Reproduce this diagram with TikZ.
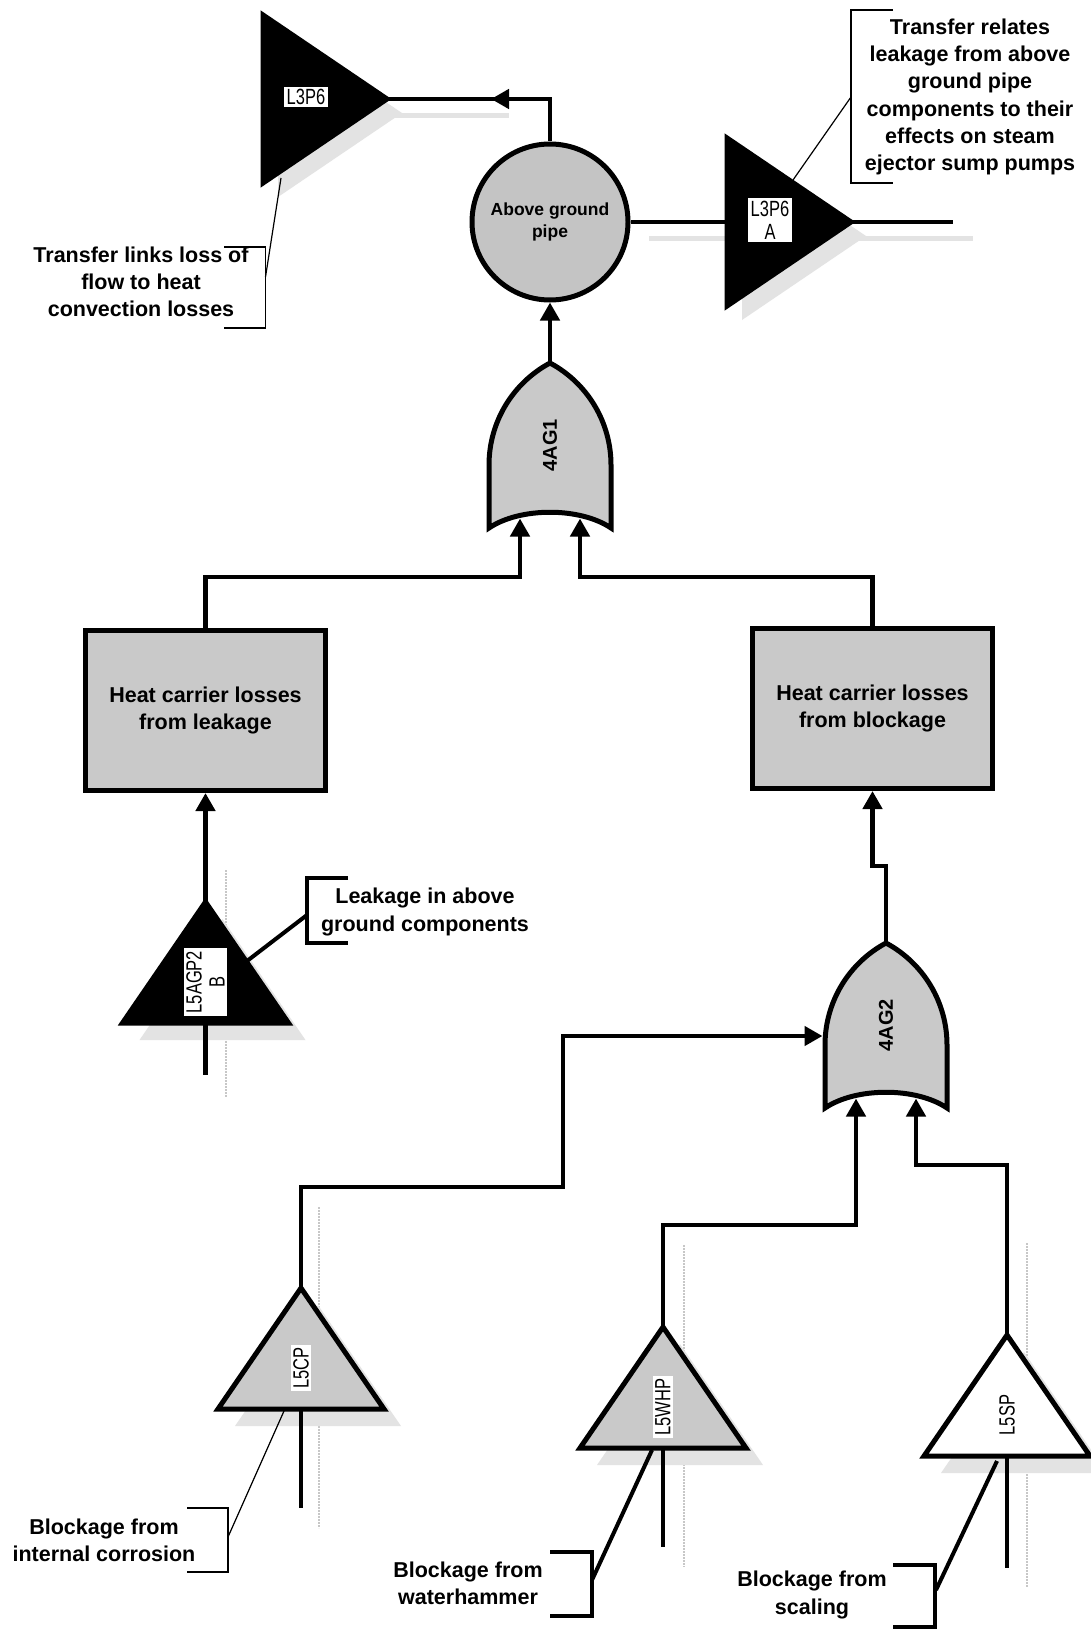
\documentclass[tikz,border=0pt]{standalone}
\usepackage{fontspec}
\setmainfont{Liberation Sans}
\newfontfamily\labfam[FakeStretch=0.75]{Liberation Sans}
\usetikzlibrary{arrows.meta}
\newcommand\mynotefont{\fontsize{21.5}{27.3}\selectfont\bfseries}
\newcommand\mylabfont{\labfam\fontsize{22}{23}\selectfont}
\newcommand\mygatefont{\fontsize{20}{22}\selectfont\bfseries}
\newcommand\mycircfont{\fontsize{17.5}{22}\selectfont\bfseries}
\newcommand\myboxfont{\fontsize{21.5}{27}\selectfont\bfseries}
\tikzset{
  conn/.style={line width=4.6pt},
  arr/.style={conn, -{Triangle[length=18pt,width=19pt]}},
  outl/.style={line width=5pt, line join=miter},
  tlab/.style={fill=white, inner sep=2.5pt, font=\mylabfont, align=center},
  notetxt/.style={font=\mynotefont, align=center, inner sep=0pt},
  thinb/.style={line width=1.2pt},
  thickb/.style={line width=4pt},
  shad/.style={fill=black!11, draw=none},
  shstripe/.style={draw=black!22, line width=2pt, densely dotted},
  boxnode/.style={draw, outl, fill=black!21, minimum width=240pt, minimum height=160pt, inner sep=0pt, font=\myboxfont, align=center},
  pics/uptri/.style n args={2}{code={
    \fill[shad] (17,17) -- (100,138) -- (-66,138) -- cycle;
    \draw[outl, fill=#1] (0,0) -- (83,121) -- (-83,121) -- cycle;
    \node[tlab, rotate=90] (-lab) at (0,80) {#2};
    \coordinate (-apex) at (0,0);
    \coordinate (-base) at (0,121);
  }},
  pics/rtri/.style={code={
    \fill[shad] (15,-70) -- (139,14) -- (15,98) -- cycle;
    \fill[shad] (124,14) rectangle (246,19);
    \draw[outl, fill=black] (0,-84) -- (124,0) -- (0,84) -- cycle;
    \node[tlab] (-lab) at (43,-2) {#1};
    \coordinate (-tip) at (124,0);
    \coordinate (-back) at (0,0);
  }},
  pics/orgate/.style={code={
    \draw[outl, fill=black!21] (-61,83) -- (-61,20) .. controls (-61,-22.7) and (-37.6,-61.8) .. (0,-82)
      .. controls (37.6,-61.8) and (61,-22.7) .. (61,20) -- (61,83)
      .. controls (30,62) and (-30,62) .. (-61,83) -- cycle;
    \node[font=\mygatefont, rotate=90] (-lab) at (0,0) {#1};
    \coordinate (-out) at (0,-84);
    \coordinate (-inL) at (-30,73.5);
    \coordinate (-inR) at (30,73.5);
    \coordinate (-inS) at (-63.5,11);
  }},
}
\begin{document}
\begin{tikzpicture}[x=1pt, y=-1pt]
\fill[white] (0,0) rectangle (1090,1629);
\useasboundingbox (0,0) rectangle (1090,1629);

% faint shadow stripes
\draw[shstripe] (226,870) -- (226,1097);
\draw[shstripe] (319,1207) -- (319,1528);
\draw[shstripe] (684,1245) -- (684,1567);
\draw[shstripe] (1027,1243) -- (1027,1587);
\fill[shad] (649,236) rectangle (727,241);

% shapes
\pic (t1) at (263,99) {rtri={L3P6}};
\pic (t2) at (727,222) {rtri={L3P6\\A}};
\node[circle, draw, outl, fill=black!23, minimum size=156pt, inner sep=0pt, font=\mycircfont, align=center] (c) at (550,222) {Above ground\\pipe};
\pic (g1) at (550,445) {orgate={4AG1}};
\pic (g2) at (886,1025) {orgate={4AG2}};
\node[boxnode] (b1) at (205.5,710.5) {Heat carrier losses\\from leakage};
\node[boxnode] (b2) at (872.5,708.5) {Heat carrier losses\\from blockage};
\pic (t3) at (205.5,902) {uptri={black}{L5AGP2\\B}};
\pic (t4) at (301,1288) {uptri={black!21}{L5CP}};
\pic (t5) at (663,1327) {uptri={black!21}{L5WHP}};
\pic (t6) at (1007,1335) {uptri={white}{L5SP}};

% helper coordinates
\coordinate (t2end) at (953,222);
\coordinate (t3end) at (205.5,1075);
\coordinate (t4end) at (301,1508);
\coordinate (t5end) at (663,1547);
\coordinate (t6end) at (1007,1568);
\coordinate (bus) at (0,577);
\coordinate (jog) at (0,866);
\coordinate (k4) at (563,1187);
\coordinate (y5) at (0,1225);
\coordinate (y6) at (0,1165);
\coordinate (am1) at (530,99);
\coordinate (am2) at (491,99);

% connectors
\draw[conn] (c.north) |- (t1-tip);
\draw[arr] (am1) -- (am2);
\draw[conn] (c.east) -- (t2-back);
\draw[conn] (t2-tip) -- (t2end);
\draw[arr] (g1-out) -- (c.south);
\draw[arr] (b1.north) -- (b1.north |- bus) -| (g1-inL);
\draw[arr] (b2.north) -- (b2.north |- bus) -| (g1-inR);
\draw[arr] (t3-apex) -- (b1.south);
\draw[conn] (t3-base) -- (t3end);
\draw[arr] (g2-out) -- (g2-out |- jog) -| (b2.south);
\draw[arr] (t4-apex) |- (k4) |- (g2-inS);
\draw[arr] (t5-apex) -- (t5-apex |- y5) -| (g2-inL);
\draw[arr] (t6-apex) -- (t6-apex |- y6) -| (g2-inR);
\draw[conn] (t4-base) -- (t4end);
\draw[conn] (t5-base) -- (t5end);
\draw[conn] (t6-base) -- (t6end);

% annotations
\node[notetxt] (n1) at (141,282) {Transfer links loss of\\flow to heat\\convection losses};
\draw[thinb] (224,247) -| (265.5,328) -- (224,328);
\coordinate (n1a) at (265.5,277);
\coordinate (n1b) at (281,178);
\draw[thinb] (n1a) -- (n1b);

\node[notetxt] (n2) at (970,97) {Transfer relates\\leakage from above\\ground pipe\\components to their\\effects on steam\\ejector sump pumps};
\draw[thinb] (893,10) -| (851,183) -- (893,183);
\coordinate (n2a) at (851,97);
\coordinate (n2b) at (793,180);
\draw[thinb] (n2a) -- (n2b);

\node[notetxt] (n3) at (425,912) {Leakage in above\\ground components};
\draw[thickb] (348,878) -| (307,943) -- (348,943);
\coordinate (n3a) at (307,915);
\coordinate (n3b) at (247,961);
\draw[thickb] (n3a) -- (n3b);

\node[notetxt] (n4) at (104,1540) {Blockage from\\internal corrosion};
\draw[thinb] (187,1508) -| (228,1572) -- (187,1572);
\coordinate (n4a) at (228,1537);
\coordinate (n4b) at (284,1411);
\draw[thinb] (n4a) -- (n4b);

\node[notetxt] (n5) at (468,1583) {Blockage from\\waterhammer};
\draw[thickb] (550,1552) -| (592,1616) -- (550,1616);
\coordinate (n5a) at (592,1580);
\coordinate (n5b) at (652,1450);
\draw[thickb] (n5a) -- (n5b);

\node[notetxt] (n6) at (812,1595) {Blockage from\\scaling};
\draw[thickb] (893,1565) -| (935,1627) -- (893,1627);
\coordinate (n6a) at (936,1590);
\coordinate (n6b) at (997,1461);
\draw[thickb] (n6a) -- (n6b);
\end{tikzpicture}
\end{document}
